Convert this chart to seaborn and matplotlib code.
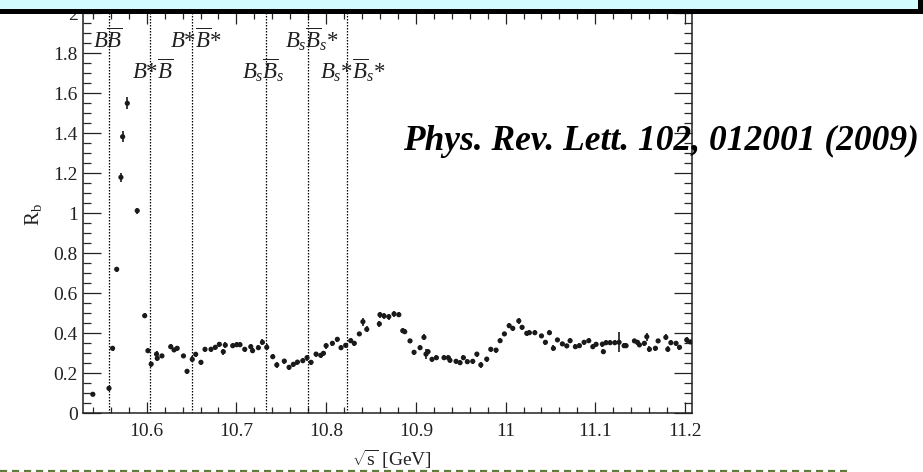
import numpy as np
import pandas as pd
import matplotlib
matplotlib.use("Agg")
import matplotlib.pyplot as plt
from matplotlib.patches import Rectangle
from matplotlib.lines import Line2D
from matplotlib.ticker import MultipleLocator, FormatStrFormatter
import seaborn as sns

# ---------------- data ----------------
sqrt_s = [10.540, 10.558, 10.562, 10.5666, 10.5713, 10.5732, 10.5784, 10.5895, 10.5978, 10.6014,
          10.605, 10.611, 10.6118, 10.617, 10.6268, 10.6305, 10.634, 10.641, 10.645, 10.6508,
          10.6546, 10.6605, 10.665, 10.6717, 10.6765, 10.681, 10.6854, 10.6876, 10.6959, 10.7003,
          10.704, 10.7093, 10.716, 10.718, 10.7245, 10.729, 10.7338, 10.7405, 10.745, 10.7534,
          10.7587, 10.7635, 10.768, 10.774, 10.7787, 10.7832, 10.7888, 10.794, 10.797, 10.800,
          10.807, 10.8125, 10.8166, 10.8218, 10.8274, 10.8314, 10.837, 10.841, 10.8453, 10.8593,
          10.860, 10.8645, 10.8698, 10.8757, 10.881, 10.8854, 10.8876, 10.8935, 10.898, 10.9047,
          10.909, 10.9113, 10.9136, 10.918, 10.9229, 10.9314, 10.9362, 10.938, 10.9448, 10.9493,
          10.953, 10.9574, 10.9634, 10.968, 10.9724, 10.979, 10.9835, 10.9894, 10.9939, 10.9987,
          11.004, 11.008, 11.0147, 11.0184, 11.0236, 11.0265, 11.0326, 11.040, 11.0444, 11.0489,
          11.0533, 11.0578, 11.0633, 11.0682, 11.0719, 11.0778, 11.0823, 11.0875, 11.0927, 11.0972,
          11.1009, 11.1079, 11.109, 11.112, 11.1165, 11.1217, 11.1265, 11.1321, 11.1343, 11.1436,
          11.147, 11.1492, 11.1547, 11.1574, 11.1603, 11.167, 11.170, 11.1786, 11.1808, 11.1842,
          11.190, 11.1938, 11.2019, 11.206]
r_b = [0.095, 0.125, 0.325, 0.720, 1.180, 1.383, 1.550, 1.013, 0.488, 0.313,
       0.246, 0.296, 0.275, 0.287, 0.333, 0.317, 0.325, 0.287, 0.210, 0.270,
       0.295, 0.255, 0.320, 0.320, 0.330, 0.345, 0.308, 0.341, 0.338, 0.343,
       0.343, 0.320, 0.333, 0.313, 0.328, 0.355, 0.330, 0.283, 0.242, 0.261,
       0.230, 0.245, 0.256, 0.263, 0.278, 0.255, 0.296, 0.290, 0.300, 0.338,
       0.350, 0.370, 0.328, 0.340, 0.363, 0.350, 0.397, 0.458, 0.420, 0.447,
       0.493, 0.487, 0.483, 0.497, 0.493, 0.413, 0.408, 0.362, 0.305, 0.328,
       0.380, 0.296, 0.308, 0.270, 0.278, 0.278, 0.278, 0.265, 0.260, 0.253,
       0.278, 0.258, 0.260, 0.296, 0.242, 0.271, 0.320, 0.316, 0.363, 0.397,
       0.438, 0.425, 0.462, 0.430, 0.400, 0.403, 0.403, 0.387, 0.355, 0.403,
       0.325, 0.367, 0.347, 0.337, 0.363, 0.333, 0.338, 0.355, 0.363, 0.333,
       0.345, 0.346, 0.308, 0.353, 0.353, 0.353, 0.355, 0.338, 0.338, 0.362,
       0.355, 0.342, 0.350, 0.383, 0.320, 0.325, 0.362, 0.380, 0.320, 0.353,
       0.350, 0.330, 0.367, 0.357]
r_b_err = [0.006, 0.012, 0.014, 0.014, 0.022, 0.028, 0.030, 0.015, 0.012, 0.012,
           0.012, 0.015, 0.015, 0.012, 0.012, 0.012, 0.012, 0.012, 0.012, 0.015,
           0.012, 0.012, 0.012, 0.012, 0.012, 0.012, 0.015, 0.015, 0.012, 0.012,
           0.012, 0.012, 0.012, 0.012, 0.012, 0.015, 0.015, 0.012, 0.015, 0.012,
           0.012, 0.012, 0.012, 0.012, 0.015, 0.012, 0.012, 0.012, 0.012, 0.015,
           0.012, 0.012, 0.012, 0.012, 0.012, 0.012, 0.012, 0.020, 0.015, 0.015,
           0.015, 0.015, 0.015, 0.015, 0.012, 0.012, 0.012, 0.012, 0.012, 0.012,
           0.015, 0.025, 0.012, 0.012, 0.012, 0.012, 0.012, 0.012, 0.012, 0.012,
           0.012, 0.012, 0.012, 0.012, 0.015, 0.012, 0.012, 0.012, 0.012, 0.012,
           0.012, 0.012, 0.015, 0.012, 0.012, 0.012, 0.012, 0.012, 0.012, 0.012,
           0.015, 0.012, 0.012, 0.012, 0.012, 0.012, 0.012, 0.012, 0.012, 0.012,
           0.012, 0.012, 0.012, 0.012, 0.012, 0.012, 0.050, 0.012, 0.012, 0.012,
           0.012, 0.012, 0.012, 0.020, 0.015, 0.012, 0.012, 0.015, 0.015, 0.012,
           0.012, 0.012, 0.015, 0.012]

threshold_pos = [10.558, 10.604, 10.650, 10.733, 10.780, 10.823]
threshold_labels = [r'$B\overline{B}$', r'$B$*$\overline{B}$', r'$B$*$\overline{B}$*',
                    r'$B_s\overline{B}_s$', r'$B_s\overline{B}_s$*', r'$B_s$*$\overline{B}_s$*']
label_x = [10.540, 10.584, 10.626, 10.706, 10.754, 10.793]
label_y = [1.826, 1.672, 1.826, 1.672, 1.826, 1.672]

x_ticks = [10.6, 10.7, 10.8, 10.9, 11.0, 11.1, 11.2]
y_ticks = [0, 0.2, 0.4, 0.6, 0.8, 1.0, 1.2, 1.4, 1.6, 1.8, 2.0]
x_label = r'$\sqrt{\mathrm{s}}$ [GeV]'
y_label = r'R$_{\mathrm{b}}$'
citation = 'Phys. Rev. Lett. 102, 012001 (2009)'

df = pd.DataFrame({'sqrt_s': sqrt_s, 'r_b': r_b, 'err': r_b_err})

# ---------------- style ----------------
sns.set_theme(style='ticks')
plt.rcParams['font.family'] = ['Liberation Serif', 'DejaVu Serif']
plt.rcParams['mathtext.fontset'] = 'custom'
plt.rcParams['mathtext.rm'] = 'Liberation Serif'
plt.rcParams['mathtext.it'] = 'Liberation Serif:italic'
plt.rcParams['mathtext.bf'] = 'Liberation Serif:bold'

W, H = 923, 472
fig = plt.figure(figsize=(W / 100, H / 100), dpi=100)
fig.patch.set_facecolor('white')
L, R, T, B = 82.7, 692.3, 13.3, 413.3
ax = fig.add_axes([L / W, 1 - B / H, (R - L) / W, (B - T) / H])
ax.set_facecolor('white')

# threshold lines
for xp in threshold_pos:
    ax.axvline(xp, color='black', lw=0.9, ls=(0, (1.2, 1.2)), zorder=1)

# data
ax.errorbar(df['sqrt_s'], df['r_b'], yerr=df['err'], fmt='none', ecolor='#1a1a1a',
            elinewidth=1.2, capsize=0, zorder=2)
sns.scatterplot(data=df, x='sqrt_s', y='r_b', ax=ax, color='#1a1a1a', marker='o',
                s=14, edgecolor='none', linewidth=0, legend=False, zorder=3)

for lab, lx, ly in zip(threshold_labels, label_x, label_y):
    ax.text(lx, ly, lab, fontsize=16.5, ha='left', va='baseline', color='#222222', zorder=4)

ax.set_xlim(10.5287, 11.2081)
ax.set_ylim(0, 2)
ax.set_xticks(x_ticks)
ax.set_yticks(y_ticks)
ax.xaxis.set_minor_locator(MultipleLocator(0.02))
ax.yaxis.set_minor_locator(MultipleLocator(0.05))
ax.xaxis.set_major_formatter(FormatStrFormatter('%g'))
ax.yaxis.set_major_formatter(FormatStrFormatter('%g'))
ax.set_xlabel('')
ax.set_ylabel('')

for s in ax.spines.values():
    s.set_color('#222222')
    s.set_linewidth(1.1)
    s.set_visible(True)

ax.tick_params(axis='x', which='major', direction='in', length=8, width=0.9,
               top=True, bottom=True, labelsize=14, pad=7, colors='#222222')
ax.tick_params(axis='x', which='minor', direction='in', length=4, width=0.9,
               top=True, bottom=True)
ax.tick_params(axis='y', which='major', direction='in', length=13, width=0.9,
               left=True, right=True, labelsize=14, pad=3.5, colors='#222222')
ax.tick_params(axis='y', which='minor', direction='in', length=6, width=0.9,
               left=True, right=True)

# axis titles
fig.text(392 / W, 1 - 466 / H, x_label, fontsize=14, ha='center', va='baseline', color='#222222')
fig.text(33 / W, 1 - 215 / H, y_label, fontsize=15, rotation=90, ha='center', va='center',
         color='#222222')

# citation
fig.text(403 / W, 1 - 150 / H, citation, fontsize=25.5, fontweight='bold', fontstyle='italic',
         ha='left', va='baseline', color='black', zorder=10)

# top banner (cut-off box)
fig.patches.append(Rectangle((0, 1 - 9.3 / H), 1, 9.3 / H, transform=fig.transFigure,
                             facecolor='#d2fbff', edgecolor='none', zorder=20))
fig.patches.append(Rectangle((0, 1 - 13.5 / H), 1, 4.2 / H, transform=fig.transFigure,
                             facecolor='black', edgecolor='none', zorder=21))
fig.patches.append(Rectangle((918 / W, 1 - 13.5 / H), 5 / W, 13.5 / H, transform=fig.transFigure,
                             facecolor='black', edgecolor='none', zorder=21))

# bottom dashed separator
fig.lines.append(Line2D([0, 847 / W], [1 - 470.5 / H, 1 - 470.5 / H], transform=fig.transFigure,
                        color='#5d7d3c', lw=1.6, ls=(0, (3.2, 2.2)), zorder=20))

fig.savefig('out.png', dpi=100)
